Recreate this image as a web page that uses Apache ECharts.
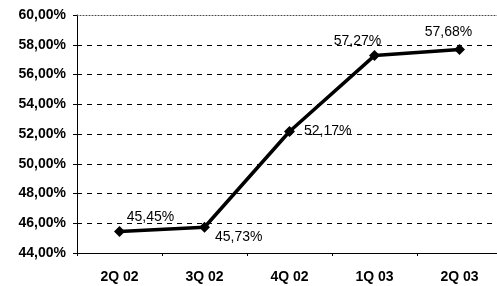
<!DOCTYPE html>
<html>
<head>
<meta charset="utf-8">
<script src="https://cdn.jsdelivr.net/npm/echarts@6/dist/echarts.min.js"></script>
<style>
  html, body { margin: 0; padding: 0; background: #fff; }
  #chart { width: 497px; height: 286px; }
</style>
</head>
<body>
<div id="chart"></div>
<script>
// quarters and ratio values (%)
var cateList = ['2Q 02', '3Q 02', '4Q 02', '1Q 03', '2Q 03'];
var dataList = [45.45, 45.73, 52.17, 57.27, 57.68];
// label placement per point
var labelPos = ['top', 'right', 'right', 'top', 'top'];
var labelOffset = [[31, 3], [0, 10], [4, 0], [-17, 3], [-11, 0]];

function fmt(v) {
  return v.toFixed(2).replace('.', ',') + '%';
}

var Chart = echarts.init(document.getElementById('chart'));

var seriesData = dataList.map(function (v, i) {
  return {
    value: v,
    label: { position: labelPos[i], offset: labelOffset[i] }
  };
});

var option = {
  animation: false,
  grid: { left: 77, right: -5, top: 15, bottom: 33, outerBoundsMode: 'none', containLabel: false },
  xAxis: [{
    type: 'category',
    data: cateList,
    axisLine: { lineStyle: { color: '#000', width: 1 } },
    axisTick: { show: true, length: 3, lineStyle: { color: '#000' } },
    axisLabel: {
      color: '#000', fontFamily: 'Arial, Liberation Sans', fontWeight: 'bold',
      fontSize: 14, margin: 17
    }
  }, {
    type: 'category',
    position: 'top',
    data: cateList,
    axisLine: { lineStyle: { color: '#444', type: [1, 2], width: 1 } },
    axisTick: { show: false },
    axisLabel: { show: false }
  }],
  yAxis: {
    type: 'value',
    min: 44,
    max: 60,
    interval: 2,
    axisLine: { show: true, lineStyle: { color: '#000', width: 1 } },
    axisTick: { show: true, length: 4, lineStyle: { color: '#000' } },
    axisLabel: {
      color: '#000', fontFamily: 'Arial, Liberation Sans', fontWeight: 'bold',
      fontSize: 14, margin: 11,
      formatter: function (v) { return fmt(v); }
    },
    splitLine: {
      show: true,
      showMinLine: false,
      showMaxLine: false,
      lineStyle: { color: '#000', type: [5, 5], width: 1 }
    }
  },
  series: [{
    type: 'line',
    data: seriesData,
    symbol: 'diamond',
    symbolSize: 11,
    lineStyle: { color: '#000', width: 3.5 },
    itemStyle: { color: '#000' },
    label: {
      show: true,
      color: '#000',
      fontFamily: 'Arial, Liberation Sans',
      fontSize: 14,
      formatter: function (p) { return fmt(p.value); }
    }
  }]
};

Chart.setOption(option);
</script>
</body>
</html>
